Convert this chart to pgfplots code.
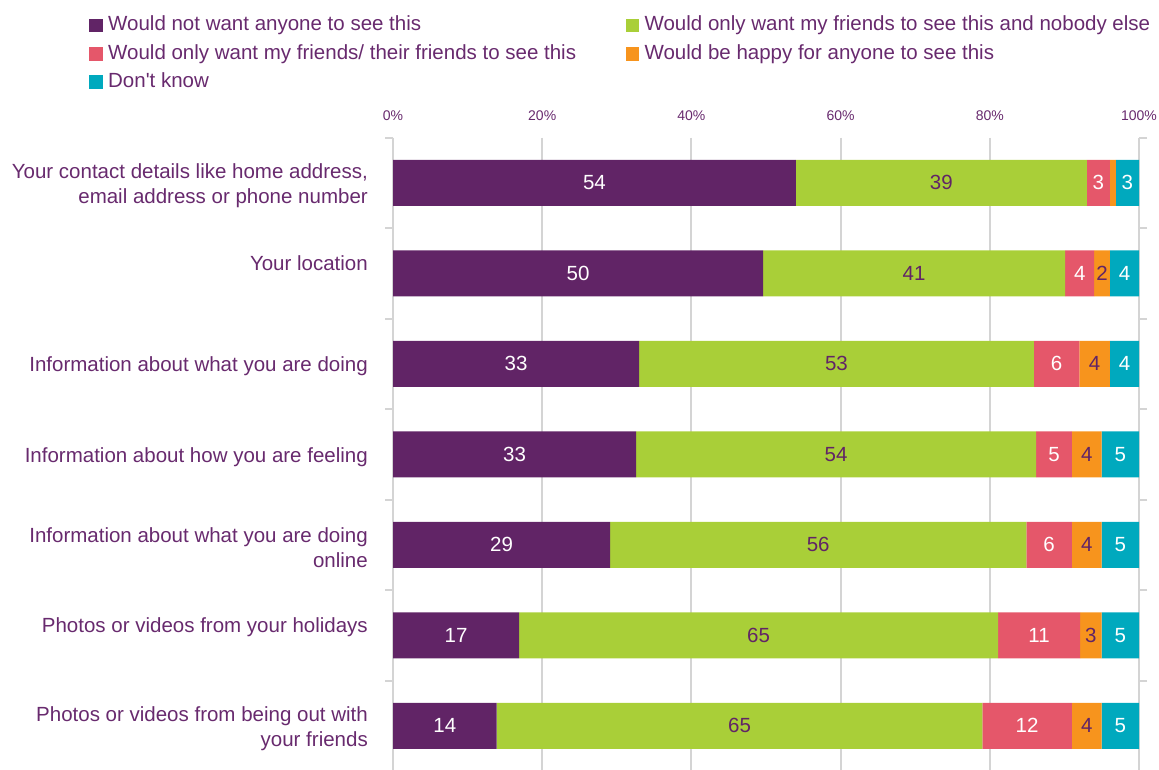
\documentclass[border=0pt]{standalone}
\usepackage{fontspec}
\setmainfont{Liberation Sans}
\usepackage{pgfplots}
\usepackage{pgfplotstable}
\pgfplotsset{compat=1.18}
\definecolor{cPur}{RGB}{97,36,102}
\definecolor{cGrn}{RGB}{169,207,56}
\definecolor{cPnk}{RGB}{229,87,106}
\definecolor{cOrg}{RGB}{247,148,29}
\definecolor{cCyn}{RGB}{0,169,190}
\definecolor{cTxt}{RGB}{104,42,110}
\definecolor{cGrid}{RGB}{212,212,212}
\newcommand\bigf{\fontsize{20.5}{24}\selectfont}
\newcommand\catf{\fontsize{20.5}{25}\selectfont}
\newcommand\smallf{\fontsize{14}{16}\selectfont}

\pgfplotstableread{
c v1   v2   v3   v4  v5  l1 l2 l3 l4 l5
0 54.0 39.0 3.1  0.8 3.1 54 39 3  {} 3
1 49.6 40.5 3.9  2.1 3.9 50 41 4  2  4
2 33.0 52.9 6.1  4.1 3.9 33 53 6  4  4
3 32.6 53.6 4.8  4.0 5.0 33 54 5  4  5
4 29.1 55.8 6.1  4.0 5.0 29 56 6  4  5
5 16.9 64.2 11.0 2.9 5.0 17 65 11 3  5
6 13.9 65.1 12.0 4.0 5.0 14 65 12 4  5
}\datatable

\pgfplotsset{
  lab/.style 2 args={
    point meta=explicit symbolic,
    nodes near coords,
    every node near coord/.style={font=\bigf, text=#2, anchor=center, inner sep=0pt}
  }
}

\begin{document}
\begin{tikzpicture}[x=1pt,y=1pt]
\path[use as bounding box] (0,0) rectangle (1159,-769);
\begin{axis}[
  at={(393pt,-137.5pt)}, anchor=north west,
  scale only axis, width=746pt, height=633.5pt,
  xbar stacked, bar width=46pt,
  xmin=0, xmax=100, ymin=-0.5, ymax=6.5, y dir=reverse,
  axis line style={draw=none},
  xtick={0,20,...,100}, xticklabel pos=upper,
  xticklabel={\pgfmathprintnumber{\tick}\%},
  /pgf/number format/assume math mode=true,
  xticklabel style={font=\smallf, text=cTxt, anchor=base, inner sep=0pt, yshift=17.5pt},
  ytick={0,...,6},
  yticklabels={{Your contact details like home address,\\email address or phone number},
    {Your location\\\mbox{}},
    {Information about what you are doing},
    {Information about how you are feeling},
    {Information about what you are doing\\online},
    {Photos or videos from your holidays\\\mbox{}},
    {Photos or videos from being out with\\your friends}},
  yticklabel style={font=\catf, text=cTxt, align=right, inner sep=0pt, anchor=east, xshift=-25pt, yshift=-2.5pt},
  major tick length=0pt,
  minor ytick={-0.5,0.5,...,6.5},
  minor tick length=8pt, tick align=outside,
  every minor tick/.append style={draw=cGrid, line width=2pt},
  xmajorgrids, major grid style={draw=cGrid, line width=2pt},
  legend columns=2,
  legend cell align=left,
  legend style={at={(axis description cs:-0.40751,1.19909)}, anchor=north west,
    draw=none, fill=none, inner sep=0pt, font=\bigf, text=cTxt, row sep=0pt,
    nodes={text height=15pt, text depth=4.5pt, inner ysep=4.375pt, inner xsep=5.5pt},
    /tikz/every even column/.append style={column sep=44pt}},
  legend image code/.code={\fill[#1] (0pt,-6.75pt) rectangle (13.5pt,6.75pt);},
]
\addplot[fill=cPur, draw=none, lab={1}{white}] table[x=v1, y=c, meta=l1] {\datatable};
\addlegendentry{Would not want anyone to see this}
\addplot[fill=cGrn, draw=none, lab={2}{cPur}] table[x=v2, y=c, meta=l2] {\datatable};
\addlegendentry{Would only want my friends to see this and nobody else}
\addplot[fill=cPnk, draw=none, lab={3}{white}] table[x=v3, y=c, meta=l3] {\datatable};
\addlegendentry{Would only want my friends/ their friends to see this}
\addplot[fill=cOrg, draw=none, lab={4}{cPur}] table[x=v4, y=c, meta=l4] {\datatable};
\addlegendentry{Would be happy for anyone to see this}
\addplot[fill=cCyn, draw=none, lab={5}{white}] table[x=v5, y=c, meta=l5] {\datatable};
\addlegendentry{Don\textquotesingle t know}
\end{axis}
\end{tikzpicture}
\end{document}
